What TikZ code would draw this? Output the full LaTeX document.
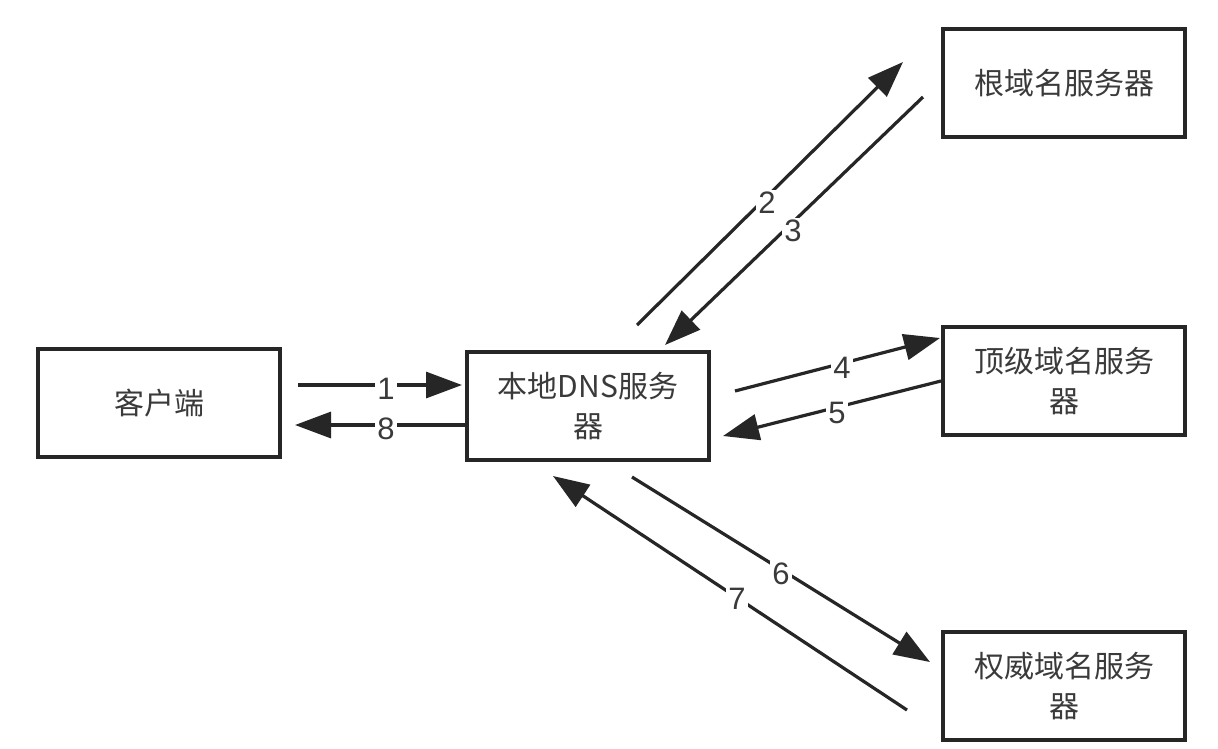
\documentclass[tikz,border=0pt]{standalone}
\usepackage{fontspec}
\setmainfont{Liberation Sans}
\newfontfamily\cjk{Noto Sans CJK SC}
\usetikzlibrary{arrows.meta}
\definecolor{linec}{HTML}{262626}
\definecolor{textc}{HTML}{3A3A3A}
\begin{document}
\begin{tikzpicture}[x=1pt,y=-1pt,
  box/.style={draw=linec, line width=3.2pt, minimum width=242pt, minimum height=108pt,
    inner sep=0pt, align=center, font=\cjk\fontsize{30}{40}\selectfont, text=textc},
  conn/.style={line width=3.2pt, draw=linec, -{Triangle[length=36pt,width=26pt]}},
  lbl/.style={fill=white, inner sep=2pt, font=\fontsize{31}{32}\selectfont, text=textc}]
\useasboundingbox (0,0) rectangle (1218,748);
\fill[white] (0,0) rectangle (1218,748);
% boxes
\node[box] (client) at (159,403) {客户端};
\node[box] (local) at (588,406) {本地DNS服务\\器};
\node[box] (root) at (1064,83) {根域名服务器};
\node[box] (tld) at (1064,381) {顶级域名服务\\器};
\node[box] (auth) at (1064,686) {权威域名服务\\器};
% connector end points
\coordinate (s1) at (298,385); \coordinate (e1) at (462,385);
\coordinate (s8) at (465,425); \coordinate (e8) at (295,425);
\coordinate (s2) at (637,325); \coordinate (e2) at (903,62);
\coordinate (s3) at (923,97);  \coordinate (e3) at (665,345);
\coordinate (s4) at (735,391); \coordinate (e4) at (940,338);
\coordinate (s5) at (941,381); \coordinate (e5) at (723,436);
\coordinate (s6) at (632,477); \coordinate (e6) at (930,662);
\coordinate (s7) at (907,710); \coordinate (e7) at (553,476);
% connectors
\draw[conn] (s1) -- (e1);
\draw[conn] (s8) -- (e8);
\draw[conn] (s2) -- (e2);
\draw[conn] (s3) -- (e3);
\draw[conn] (s4) -- (e4);
\draw[conn] (s5) -- (e5);
\draw[conn] (s6) -- (e6);
\draw[conn] (s7) -- (e7);
% labels
\node[lbl] (l1) at (386,389) {1};
\node[lbl] (l8) at (386,429) {8};
\node[lbl] (l2) at (767,203) {2};
\node[lbl] (l3) at (793,231) {3};
\node[lbl] (l4) at (842,368) {4};
\node[lbl] (l5) at (837,413) {5};
\node[lbl] (l6) at (781,574) {6};
\node[lbl] (l7) at (737,599) {7};
\end{tikzpicture}
\end{document}
